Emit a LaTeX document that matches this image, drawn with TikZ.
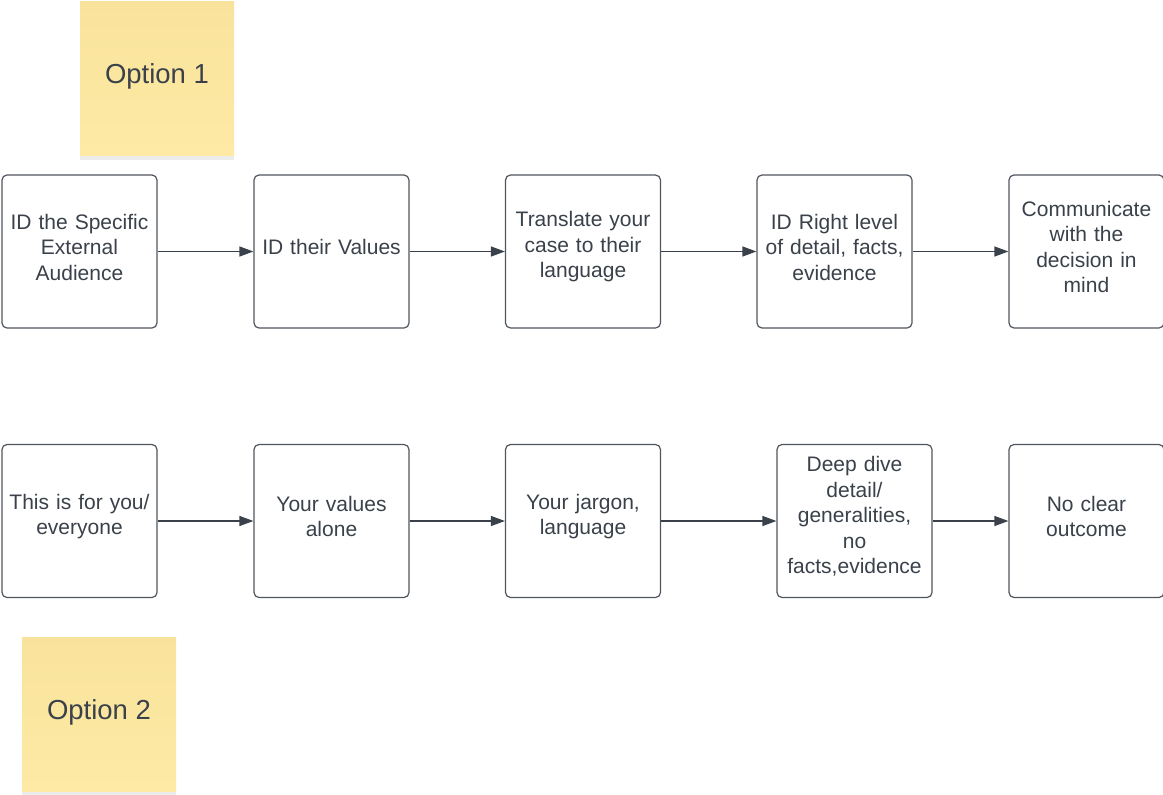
\documentclass[tikz,border=0pt]{standalone}
\usepackage{fontspec}
\setmainfont{Liberation Sans}
\usepackage{tikz}
\usetikzlibrary{arrows.meta,shadows}
\definecolor{ink}{HTML}{3A414A}
\definecolor{edge}{HTML}{50565E}
\definecolor{notetop}{HTML}{F9E39C}
\definecolor{notebot}{HTML}{FEEAA5}
\newcommand{\boxpad}{\endgraf\vspace*{9pt}}
\tikzstyle{step box}=[draw=edge, line width=1.2pt, rounded corners=5pt, fill=white,
    minimum width=155pt, minimum height=153pt, inner sep=0pt, text width=150pt,
    align=center, text=ink, font=\fontsize{21}{25.5}\selectfont,
    execute at end node=\boxpad]
\tikzstyle{sticky}=[top color=notetop, bottom color=notebot, minimum size=154pt,
    inner sep=0pt, text depth=9pt, text=ink, font=\fontsize{27.5}{33}\selectfont,
    drop shadow={opacity=0.15, shadow xshift=0pt, shadow yshift=-4pt}]
\tikzstyle{flow}=[draw=ink, line width=1.2pt, -{Triangle[length=14pt, width=10pt]}]

\begin{document}
\begin{tikzpicture}[x=1pt, y=-1pt]
                    \useasboundingbox (0,0) rectangle (1163,795);
                    % sticky notes
                    \node[sticky] (n1) at (157, 78.5) {Option 1};
                    \node[sticky] (n2) at ( 99, 714)  {Option 2};
                    % first row
                    \node[step box] (a1) at (  79.5, 251.5) {ID the Specific\\External\\Audience};
                    \node[step box] (a2) at ( 331.5, 251.5) {ID their Values};
                    \node[step box] (a3) at ( 583,   251.5) {Translate your\\case to their\\language};
                    \node[step box] (a4) at ( 834.5, 251.5) {ID Right level\\of detail, facts,\\evidence};
                    \node[step box] (a5) at (1086.5, 251.5) {Communicate\\with the\\decision in\\mind};
                    % second row
                    \node[step box] (b1) at (  79.5, 521) {This is for you/\\everyone};
                    \node[step box] (b2) at ( 331.5, 521) {Your values\\alone};
                    \node[step box] (b3) at ( 583,   521) {Your jargon,\\language};
                    \node[step box] (b4) at ( 854.5, 521) {Deep dive\\detail/\\generalities,\\no\\facts,evidence};
                    \node[step box] (b5) at (1086.5, 521) {No clear\\outcome};
                    \draw[flow]  (a1)--(a2);
                    \draw[flow]  (a2)--(a3);
                    \draw[flow]  (a3)--(a4);
                    \draw[flow]  (a4)--(a5);
                    \draw[flow]  (b1)--(b2);
                    \draw[flow]  (b2)--(b3);
                    \draw[flow]  (b3)--(b4);
                    \draw[flow]  (b4)--(b5);
                \end{tikzpicture}
\end{document}
